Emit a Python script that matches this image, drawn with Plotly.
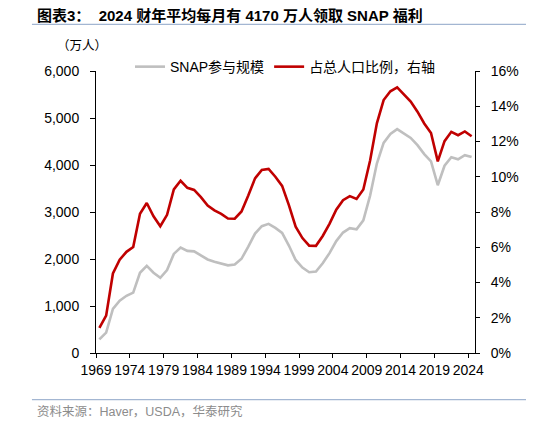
import plotly.graph_objects as go

# SNAP participation, fiscal years 1969-2024
YEARS = list(range(1969, 2025))

# participants, 万人 (ten-thousands)
PARTICIPANTS = [
    288, 434, 937, 1111, 1217, 1286, 1706, 1855, 1708, 1600,
    1765, 2108, 2243, 2172, 2163, 2085, 1990, 1943, 1911, 1865,
    1881, 2005, 2263, 2541, 2699, 2747, 2662, 2554, 2286, 1979,
    1818, 1719, 1732, 1910, 2125, 2381, 2563, 2655, 2632, 2822,
    3349, 4030, 4471, 4661, 4764, 4666, 4577, 4422, 4232, 4078,
    3570, 3985, 4166, 4121, 4210, 4170,
]

# share of total population, %
SHARE = [
    1.42, 2.12, 4.51, 5.29, 5.74, 6.01, 7.90, 8.51, 7.76, 7.19,
    7.84, 9.28, 9.77, 9.37, 9.25, 8.84, 8.36, 8.09, 7.89, 7.63,
    7.62, 8.03, 8.94, 9.91, 10.38, 10.44, 10.00, 9.48, 8.39, 7.17,
    6.52, 6.09, 6.08, 6.64, 7.33, 8.13, 8.67, 8.90, 8.74, 9.28,
    10.92, 13.03, 14.35, 14.85, 15.07, 14.66, 14.27, 13.69, 13.02, 12.48,
    10.87, 12.02, 12.55, 12.36, 12.57, 12.30,
]

TICK_YEARS = list(range(1969, 2025, 5))
TICK_LABELS = [str(y) for y in TICK_YEARS]

FONT = 'Liberation Sans, Arial, Noto Sans CJK SC'
GRAY = '#BFBFBF'
RED = '#C00000'

fig = go.Figure()

fig.add_trace(go.Scatter(
    x=YEARS, y=PARTICIPANTS, name='SNAP参与规模',
    mode='lines', line=dict(color=GRAY, width=2.6),
))
fig.add_trace(go.Scatter(
    x=YEARS, y=SHARE, name='占总人口比例，右轴',
    mode='lines', line=dict(color=RED, width=2.6), yaxis='y2',
))

# page body has an 8px margin, so the figure starts 8px in from the window corner
fig.update_layout(
    width=526, height=416,
    margin=dict(l=88, r=59, t=63, b=71),
    plot_bgcolor='white',
    paper_bgcolor='white',
    font=dict(family=FONT, size=14, color='#000000'),
    showlegend=True,
    legend=dict(
        orientation='h', x=0.5, xanchor='center', y=1.014, yanchor='middle',
        font=dict(size=14), bgcolor='rgba(0,0,0,0)',
        itemwidth=30, tracegroupgap=0,
    ),
    xaxis=dict(
        range=[1968.5, 2024.5],
        tickvals=[y - 0.5 for y in TICK_YEARS],
        ticktext=TICK_LABELS,
        showgrid=False, zeroline=False,
        showline=True, linecolor='black', linewidth=1,
        ticks='outside', ticklen=4, tickcolor='black',
        tickfont=dict(size=14),
    ),
    yaxis=dict(
        range=[0, 6000], dtick=1000, tickformat=',',
        showgrid=False, zeroline=False,
        showline=True, linecolor='black', linewidth=1,
        ticks='outside', ticklen=5, tickcolor='black',
        ticklabelstandoff=8,
        tickfont=dict(size=14),
    ),
    yaxis2=dict(
        range=[0, 16], dtick=2, ticksuffix='%',
        overlaying='y', side='right',
        showgrid=False, zeroline=False,
        showline=True, linecolor='black', linewidth=1,
        ticks='outside', ticklen=4, tickcolor='black',
        ticklabelstandoff=8,
        tickfont=dict(size=14),
    ),
)

# title, unit and source texts
fig.add_annotation(
    text='<b>图表3：  2024 财年平均每月有 4170 万人领取 SNAP 福利</b>',
    xref='paper', yref='paper', x=-0.161, y=1.196,
    xanchor='left', yanchor='middle', showarrow=False,
    font=dict(size=15, color='#000000'),
)
fig.add_annotation(
    text='（万人）', xref='paper', yref='paper', x=-0.108, y=1.0874,
    xanchor='left', yanchor='middle', showarrow=False,
    font=dict(size=12.5),
)
fig.add_annotation(
    text='资料来源：Haver，USDA，华泰研究', xref='paper', yref='paper',
    x=-0.161, y=-0.2077, xanchor='left', yanchor='middle', showarrow=False,
    font=dict(size=12.5, color='#8C8C8C'),
)

# thin rules under the title and above the source
fig.add_shape(type='line', xref='paper', yref='paper',
              x0=-0.169, x1=1.156, y0=1.165, y1=1.165,
              line=dict(color='#A3B6D2', width=1.2))
fig.add_shape(type='line', xref='paper', yref='paper',
              x0=-0.169, x1=1.156, y0=-0.165, y1=-0.165,
              line=dict(color='#A3B6D2', width=1.2))

fig.write_html('out.html')
